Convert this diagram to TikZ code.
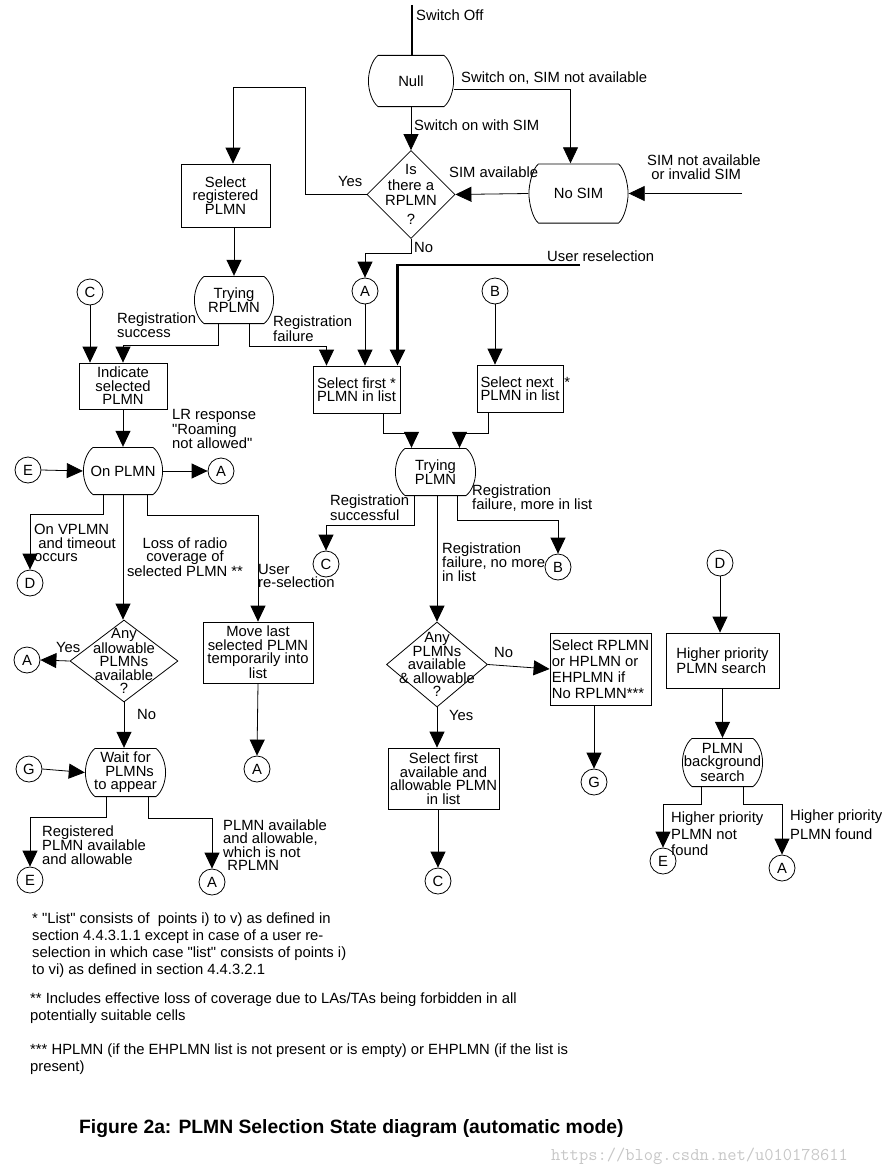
\documentclass[tikz,border=0pt]{standalone}
\usepackage{fontspec}
\setmainfont{Liberation Sans}
\usepackage{xcolor}
\usepackage{tikz}
\usetikzlibrary{shapes.geometric, arrows.meta, positioning, calc}

\begin{document}
\begin{tikzpicture}[x=1pt,y=-1pt,
  every node/.style={font=\fontsize{14.8}{13.5}\selectfont},
  arr/.style={line width=0.8pt,-{Triangle[width=15pt,length=16pt]}},
  box/.style={draw,rectangle,line width=0.8pt,inner sep=1pt,align=center},
  state/.style={inner sep=0pt,align=center,fill=white,path picture={%
    \def\pb{path picture bounding box}%
    \draw[line width=0.8pt] ([xshift=10pt,yshift=-.4pt]\pb.north west) -- ([xshift=-10pt,yshift=-.4pt]\pb.north east)
      .. controls ([xshift=-4pt,yshift=-5pt]\pb.north east) and ([xshift=-.4pt,yshift=9pt]\pb.east) .. ([xshift=-.4pt]\pb.east)
      .. controls ([xshift=-.4pt,yshift=-9pt]\pb.east) and ([xshift=-4pt,yshift=5pt]\pb.south east) .. ([xshift=-10pt,yshift=.4pt]\pb.south east)
      -- ([xshift=10pt,yshift=.4pt]\pb.south west)
      .. controls ([xshift=4pt,yshift=5pt]\pb.south west) and ([xshift=.4pt,yshift=-9pt]\pb.west) .. ([xshift=.4pt]\pb.west)
      .. controls ([xshift=.4pt,yshift=9pt]\pb.west) and ([xshift=4pt,yshift=-5pt]\pb.north west) .. cycle;}},
  decision/.style={draw,diamond,line width=0.8pt,inner sep=0pt},
  conn/.style={draw,circle,line width=0.8pt,minimum size=26pt,inner sep=0pt},
  lbl/.style={inner sep=0pt,anchor=west,align=left}]
\useasboundingbox (0,0) rectangle (881,1172);%
% states
\node[state,minimum width=86pt,minimum height=52pt] (null) at (411,81) {Null};%
\node[state,minimum width=100pt,minimum height=60pt] (nosim) at (578.5,193.5) {No SIM};%
\node[state,minimum width=80pt,minimum height=48pt] (tryr) at (234,300) {Trying\\RPLMN};%
\node[state,minimum width=81pt,minimum height=48pt] (tryp) at (435.5,472) {Trying\\PLMN};%
\node[state,minimum width=80pt,minimum height=48pt] (onplmn) at (123,471) {On PLMN};%
\node[state,minimum width=81pt,minimum height=49pt] (waitfor) at (125.5,772.5) {Wait for\\\ \ PLMNs\\to appear};%
\node[state,minimum width=81pt,minimum height=49pt] (bgsearch) at (722.5,762.5) {PLMN\\background\\search};%
% decisions
\node[decision,minimum width=88pt,minimum height=88pt,label={[align=center,font=\fontsize{14.8}{15.5}\selectfont]center:Is\\there a\\RPLMN\\[3pt]?}] (isrplmn) at (411,194.5) {};%
\node[decision,minimum width=108pt,minimum height=82pt,label={[align=center]center:Any\\allowable\\PLMNs\\available\\?}] (anyallow) at (124,661) {};%
\node[decision,minimum width=101pt,minimum height=85pt,label={[align=center]center:Any\\PLMNs\\available\\\& allowable\\?}] (anyplmn) at (437,664.5) {};%
% boxes
\node[box,minimum width=89pt,minimum height=63pt] (selreg) at (225.5,195.5) {Select\\registered\\PLMN};%
\node[box,minimum width=88pt,minimum height=46pt] (indsel) at (123,386) {Indicate\\selected\\PLMN};%
\node[box,align=left,minimum width=87pt,minimum height=47pt] (selfirst) at (356.5,389.5) {Select first *\\PLMN in list};%
\node[box,align=left,minimum width=86pt,minimum height=47pt] (selnext) at (520,388.5) {Select next\rlap{\ \ \,*}\\PLMN in list};%
\node[box,minimum width=110pt,minimum height=61pt] (movelast) at (258,652.5) {Move last\\selected PLMN\\temporarily into\\list};%
\node[box,align=left,minimum width=101pt,minimum height=72pt,font=\fontsize{14.8}{16}\selectfont] (selrplmn) at (600.5,669) {Select RPLMN\\or HPLMN or\\EHPLMN if\\No RPLMN***};%
\node[box,minimum width=111pt,minimum height=61pt] (selavail) at (443.5,778.5) {Select first\\available and\\allowable PLMN\\in list};%
\node[box,align=left,minimum width=113pt,minimum height=55pt] (hpsearch) at (722.5,660.5) {Higher priority\\PLMN search};%
% connectors (circles)
\node[conn] (cC1) at (90,292) {C};%
\node[conn] (cA1) at (365,291) {A};%
\node[conn] (cB1) at (495,291) {B};%
\node[conn] (cE1) at (28,470) {E};%
\node[conn] (cA2) at (221,471) {A};%
\node[conn] (cD1) at (30,583) {D};%
\node[conn] (cC2) at (326,564) {C};%
\node[conn] (cB2) at (558,567) {B};%
\node[conn] (cA3) at (27,660) {A};%
\node[conn] (cA4) at (257,769) {A};%
\node[conn] (cG1) at (29,769) {G};%
\node[conn] (cE2) at (30,880) {E};%
\node[conn] (cA5) at (212,882) {A};%
\node[conn] (cG2) at (594,782) {G};%
\node[conn] (cC3) at (438,881) {C};%
\node[conn] (cD2) at (720,563) {D};%
\node[conn] (cE3) at (663,861) {E};%
\node[conn] (cA6) at (782,868) {A};%
% free ends
\coordinate (swoff) at (412,5);%
\coordinate (simin) at (742,193.5);%
\coordinate (usrsel) at (580,265);%
% top part
\draw[line width=2pt] (swoff) -- (swoff |- null.north);%
\draw[arr] (null.south) -- (isrplmn.north);%
\draw[arr] ([yshift=-8pt]null.east) -| ([xshift=-8pt]nosim.north);%
\draw[arr] (simin) -- (nosim.east);%
\draw[arr] (nosim.west) -- (isrplmn.east);%
\draw[arr] (isrplmn.west) -| ++(-61,-107) -| ([xshift=7.5pt]selreg.north);%
\draw[arr] (tryr.north |- selreg.south) -- (tryr.north);%
\draw[arr] (isrplmn.south) -- ++(0,14) -| (cA1.north);%
\draw[line width=2.4pt,-{Triangle[width=15pt,length=16pt]}] (usrsel) -| ([xshift=41pt]selfirst.north);%
\draw[arr] (cA1.south) -- (cA1.south |- selfirst.north);%
\draw[arr] (cB1.south) -- (cB1.south |- selnext.north);%
\draw[arr] ([xshift=-16pt]tryr.south) -- ++(0,21) -| (indsel.north);%
\draw[arr] ([xshift=15pt]tryr.south) -- ++(0,22) -| ([xshift=-30pt]selfirst.north);%
\draw[arr] (cC1.south) -- (cC1.south |- indsel.north);%
\draw[arr] (indsel.south) -- (onplmn.north);%
\draw[arr] ([xshift=26.5pt]selfirst.south) -- ++(0,20) -| ([xshift=-24pt]tryp.north);%
\draw[arr] ([xshift=-32pt]selnext.south) -- ++(0,21) -| ([xshift=24pt]tryp.north);%
% trying PLMN
\draw[arr] ([xshift=-21pt]tryp.south) -- ++(0,29) -| (cC2.north);%
\draw[arr] (tryp.south -| anyplmn.north) -- (anyplmn.north);%
\draw[arr] ([xshift=22pt]tryp.south) -- ++(0,24) -| (cB2.north);%
\draw[arr] (anyplmn.east) -- (selrplmn.west);%
\draw[arr] (anyplmn.south) -- (anyplmn.south |- selavail.north);%
\draw[arr] (cG2.north |- selrplmn.south) -- (cG2.north);%
\draw[arr] (cC3.north |- selavail.south) -- (cC3.north);%
% on PLMN
\draw[arr] (cE1.east) -- (onplmn.west);%
\draw[arr] (onplmn.east) -- (cA2.west);%
\draw[arr] ([xshift=-20pt]onplmn.south) -- ++(0,19) -| (cD1.north);%
\draw[arr] (onplmn.south) -- (onplmn.south |- anyallow.north);%
\draw[arr] ([xshift=24pt]onplmn.south) -- ++(0,20) -| (movelast.north);%
\draw[arr] (anyallow.west) -- (cA3.east);%
\draw[arr] (anyallow.south) -- (anyallow.south |- waitfor.north);%
\draw[arr] (movelast.south) -- (cA4.north);%
\draw[arr] (cG1.east) -- (waitfor.west);%
\draw[arr] ([xshift=-19pt]waitfor.south) -- ++(0,20) -| (cE2.north);%
\draw[arr] ([xshift=23pt]waitfor.south) -- ++(0,21) -| (cA5.north);%
% background search
\draw[arr] (cD2.south) -- (cD2.south |- hpsearch.north);%
\draw[arr] (hpsearch.south) -- (bgsearch.north);%
\draw[arr] ([xshift=-21pt]bgsearch.south) -- ++(0,17) -| (cE3.north);%
\draw[arr] ([xshift=21pt]bgsearch.south) -- ++(0,17) -| (cA6.north);%
% labels
\node[lbl] (lswoff) at (416,15) {Switch Off};%
\node[lbl] (lswsim) at (414,125) {Switch on with SIM};%
\node[lbl] (lswnosim) at (461,78) {Switch on, SIM not available};%
\node[lbl] (lsimav) at (449,172) {SIM available};%
\node[lbl] (lsimnot) at (647,167) {SIM not available\\\ or invalid SIM};%
\node[lbl] (lyes1) at (338,181) {Yes};%
\node[lbl] (lno1) at (414,247) {No};%
\node[lbl] (lusr) at (547,256) {User reselection};%
\node[lbl] (lregs) at (117,325) {Registration\\success};%
\node[lbl] (lregf) at (273,329) {Registration\\failure};%
\node[lbl] (llr) at (172,429) {LR response\\\textquotedbl Roaming\\not allowed\textquotedbl};%
\node[lbl] (lregs2) at (330,508) {Registration\\successful};%
\node[lbl] (lregmore) at (472,498) {Registration\\failure, more in list};%
\node[lbl] (lregnomore) at (442,562) {Registration\\failure, no more\\in list};%
\node[lbl] (lvplmn) at (34,543) {On VPLMN\\\ and timeout\\occurs};%
\node[inner sep=0pt,align=center] (lloss) at (185,557) {Loss of radio\\coverage of\\selected PLMN **};%
\node[lbl] (lusr2) at (258,576) {User\\re-selection};%
\node[lbl] (lyes2) at (56,647) {Yes};%
\node[lbl] (lno2) at (137,714) {No};%
\node[lbl] (lregav) at (42,845) {Registered\\PLMN available\\and allowable};%
\node[lbl] (lnotr) at (223,845) {PLMN available\\and allowable,\\which is not\\\ RPLMN};%
\node[lbl] (lno3) at (494,652) {No};%
\node[lbl] (lyes3) at (449,715) {Yes};%
\node[lbl,font=\fontsize{14.8}{16.5}\selectfont] (lhpnot) at (671,834) {Higher priority\\PLMN not\\found};%
\node[lbl,font=\fontsize{14.8}{19}\selectfont] (lhpfound) at (790,825) {Higher priority\\PLMN found};%
% notes
\node[lbl,font=\fontsize{14.8}{17}\selectfont] (note1) at (32,945.5) {* \textquotedbl List\textquotedbl{} consists of \ points i) to v) as defined in\\section 4.4.3.1.1 except in case of a user re-\\selection in which case \textquotedbl list\textquotedbl{} consists of points i)\\to vi) as defined in section 4.4.3.2.1};%
\node[lbl,font=\fontsize{14.8}{17}\selectfont] (note2) at (30,1008.5) {** Includes effective loss of coverage due to LAs/TAs being forbidden in all\\potentially suitable cells};%
\node[lbl,font=\fontsize{14.8}{17}\selectfont] (note3) at (30,1059.5) {*** HPLMN (if the EHPLMN list is not present or is empty) or EHPLMN (if the list is\\present)};%
\node[lbl,font=\bfseries\fontsize{19.3}{20}\selectfont] (title) at (79,1129) {Figure 2a: PLMN Selection State diagram (automatic mode)};%
\node[lbl,font=\ttfamily\fontsize{18}{18}\selectfont,text=black!22] (wmark) at (551,1156) {https://blog.csdn.net/u010178611};%
\end{tikzpicture}
\end{document}
